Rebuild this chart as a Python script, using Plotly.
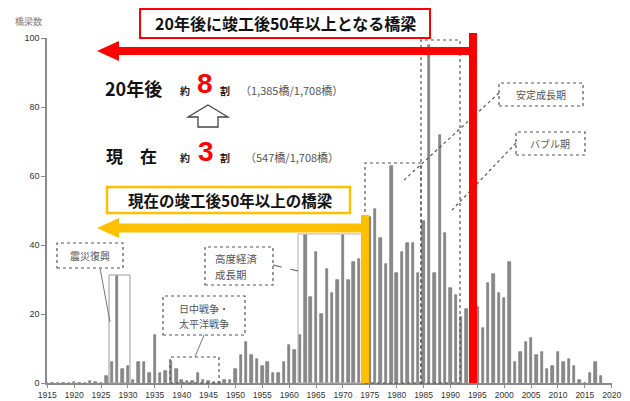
import plotly.graph_objects as go

# ---------------- data ----------------
years = list(range(1915, 2019))
bridges = [
    0, 0, 0, 0, 0, 0.3, 0, 0, 0.5, 0.3,          # 1915-1924
    0, 2, 6, 31, 4, 5, 1, 6, 6, 3,               # 1925-1934
    14, 3, 3.5, 6.5, 4, 1, 0.5, 0.5, 3, 1,       # 1935-1944
    0.5, 0.3, 0.3, 1, 1, 4, 8, 12, 8, 7,         # 1945-1954
    5, 6, 3, 3, 6, 11, 9.5, 14, 43, 25,          # 1955-1964
    38, 20, 33, 26, 30, 43, 30, 35, 36, 45,      # 1965-1974
    48, 50.5, 42, 34.5, 63, 32, 38, 40.5, 40.5, 32,  # 1975-1984
    47, 98, 32, 72, 43.5, 27.5, 25.5, 19, 21.5, 20,  # 1985-1994
    22, 16, 29, 31.5, 26, 24.5, 35, 6, 9, 12,    # 1995-2004
    13, 8, 9, 4, 5, 9, 6, 7, 5, 1,               # 2005-2014
    0, 3, 6, 2,                                  # 2015-2018
]
x_ticks = list(range(1915, 2021, 5))
y_ticks = [0, 20, 40, 60, 80, 100]

title_text = "20年後に竣工後50年以上となる橋梁"
now_text = "現在の竣工後50年以上の橋梁"

# ---------------- layout helpers (pixel -> paper) ----------------
W, H = 630, 401
L, R, T, B = 47, 18, 38, 18
PW, PH = W - L - R, H - T - B
def px(x): return (x - L) / PW
def py(y): return (H - B - y) / PH

JP = "Noto Sans CJK JP, Noto Sans, sans-serif"
NUM = "Liberation Sans, Arial, sans-serif"

fig = go.Figure()
fig.add_trace(go.Bar(
    x=years, y=bridges, width=0.45,
    marker=dict(color="#8a8a8a", line=dict(color="#6a6a6a", width=0.6)),
    hoverinfo="x+y", showlegend=False,
))

shapes = []
def rect(x0, y0, x1, y1, color, width=1.2, dash="solid", fill="rgba(0,0,0,0)"):
    shapes.append(dict(type="rect", xref="paper", yref="paper",
                       x0=px(x0), x1=px(x1), y0=py(y1), y1=py(y0),
                       line=dict(color=color, width=width, dash=dash),
                       fillcolor=fill, layer="above"))
def seg(x0, y0, x1, y1, color="#555", width=1, dash="solid"):
    shapes.append(dict(type="line", xref="paper", yref="paper",
                       x0=px(x0), x1=px(x1), y0=py(y0), y1=py(y1),
                       line=dict(color=color, width=width, dash=dash), layer="above"))
def poly(pts, fill, line_color=None, width=0):
    path = "M " + " L ".join(f"{px(a):.5f},{py(b):.5f}" for a, b in pts) + " Z"
    shapes.append(dict(type="path", xref="paper", yref="paper", path=path,
                       fillcolor=fill,
                       line=dict(color=line_color or fill, width=width), layer="above"))

DOT = "#555555"
# period boxes
rect(109, 275, 130, 383, "#9a9a9a", 1)            # 震災復興 bars
rect(57, 243, 123, 268, DOT, 1.2, "dot")           # 震災復興 label
seg(100, 268, 110, 322, "#777", 1)
rect(170, 357, 219, 383, DOT, 1.2, "dot")          # 戦争 bars
rect(163, 296, 245, 335, DOT, 1.2, "dot")          # 戦争 label
seg(204, 335, 195, 357, "#777", 1)
rect(298, 234, 363, 383, "#b0b0b8", 1)             # 高度経済成長期 bars
rect(205, 247, 273, 285, DOT, 1.2, "dot")
seg(273, 265, 298, 271, DOT, 1, "dash")
rect(365, 163, 421, 383, DOT, 1.2, "dot")          # 安定成長期 bars
rect(421, 40, 460, 383, DOT, 1.2, "dot")           # バブル期 bars
rect(499, 83, 583, 106, DOT, 1.2, "dot")
seg(499, 93, 403, 181, DOT, 1.2, "dot")
rect(516, 132, 585, 155, DOT, 1.2, "dot")
seg(516, 143, 452, 210, DOT, 1.2, "dot")

# red marker: 20 years later
rect(469, 33, 477, 383, "#FF0000", 0, fill="#FF0000")
poly([(97, 51), (119, 41), (119, 47), (473, 47), (473, 55), (119, 55), (119, 61)], "#FF0000")
rect(140, 9, 430, 38, "#FF0000", 2, fill="white")
# yellow marker: now
rect(361, 215, 369, 383, "#FFC000", 0, fill="#FFC000")
poly([(97, 228), (119, 218), (119, 223.5), (365, 223.5), (365, 232.5), (119, 232.5), (119, 238)], "#FFC000")
rect(107, 187, 350, 213, "#FFC000", 2.5, fill="white")
# hollow up arrow
poly([(208, 105), (228, 117), (218, 117), (218, 127), (198, 127), (198, 117), (188, 117)],
     "white", "#444", 1.3)

ann = []
def text(t, x, y, size, color="#222", bold=False, xanchor="center", font=JP, align="center"):
    ann.append(dict(text=f"<b>{t}</b>" if bold else t, xref="paper", yref="paper",
                    x=px(x), y=py(y), xanchor=xanchor, yanchor="middle", showarrow=False,
                    align=align, font=dict(family=font, size=size, color=color)))

text("橋梁数", 28, 22, 9, "#777")
text(title_text, 285, 23.5, 16, "#111", True)
text("20年後", 133, 88, 18, "#111", True)
text("約", 185, 90, 10, "#222", True)
text("8", 205, 83, 28, "#FF0000", True, font=NUM)
text("割", 225, 90, 10, "#222", True)
text("（1,385橋/1,708橋）", 238, 90, 11, "#555", xanchor="left")
text("現　在", 131, 155, 17, "#111", True)
text("約", 185, 157, 10, "#222", True)
text("3", 206, 151, 28, "#FF0000", True, font=NUM)
text("割", 225, 157, 10, "#222", True)
text("（547橋/1,708橋）", 243, 157, 11, "#555", xanchor="left")
text(now_text, 230, 200, 15.5, "#111", True)
text("震災復興", 90, 255.5, 10, "#555")
text("日中戦争・", 204, 308, 10, "#555")
text("太平洋戦争", 204, 323, 10, "#555")
text("高度経済", 213, 258, 10.5, "#555", xanchor="left")
text("成長期", 213, 274, 10.5, "#555", xanchor="left")
text("安定成長期", 541, 94.5, 10, "#555")
text("バブル期", 550, 143.5, 10, "#555")

fig.update_layout(
    width=W, height=H, margin=dict(l=L, r=R, t=T, b=B, autoexpand=False),
    paper_bgcolor="white", plot_bgcolor="white",
    bargap=0, shapes=shapes, annotations=ann,
    xaxis=dict(range=[1914.95, 2020.05], tickvals=x_ticks, ticktext=[str(v) for v in x_ticks],
               showline=True, linecolor="#8a8a8a", linewidth=1.5, ticks="outside",
               ticklen=3, tickcolor="#8a8a8a", showgrid=False, zeroline=False,
               automargin=False,
               tickfont=dict(family=NUM, size=8.5, color="#333"), tickangle=0),
    yaxis=dict(range=[0, 100], tickvals=y_ticks, showline=True, linecolor="#8a8a8a",
               linewidth=1.5, ticks="outside", ticklen=4, tickcolor="#8a8a8a",
               showgrid=False, zeroline=False, automargin=False,
               tickfont=dict(family=NUM, size=9, color="#333")),
)

fig.write_html(
    "out.html",
    config={"displayModeBar": False},
    post_script="document.documentElement.style.margin='0';document.body.style.margin='0';"
                "document.body.style.padding='0';document.body.style.overflow='hidden';",
)
